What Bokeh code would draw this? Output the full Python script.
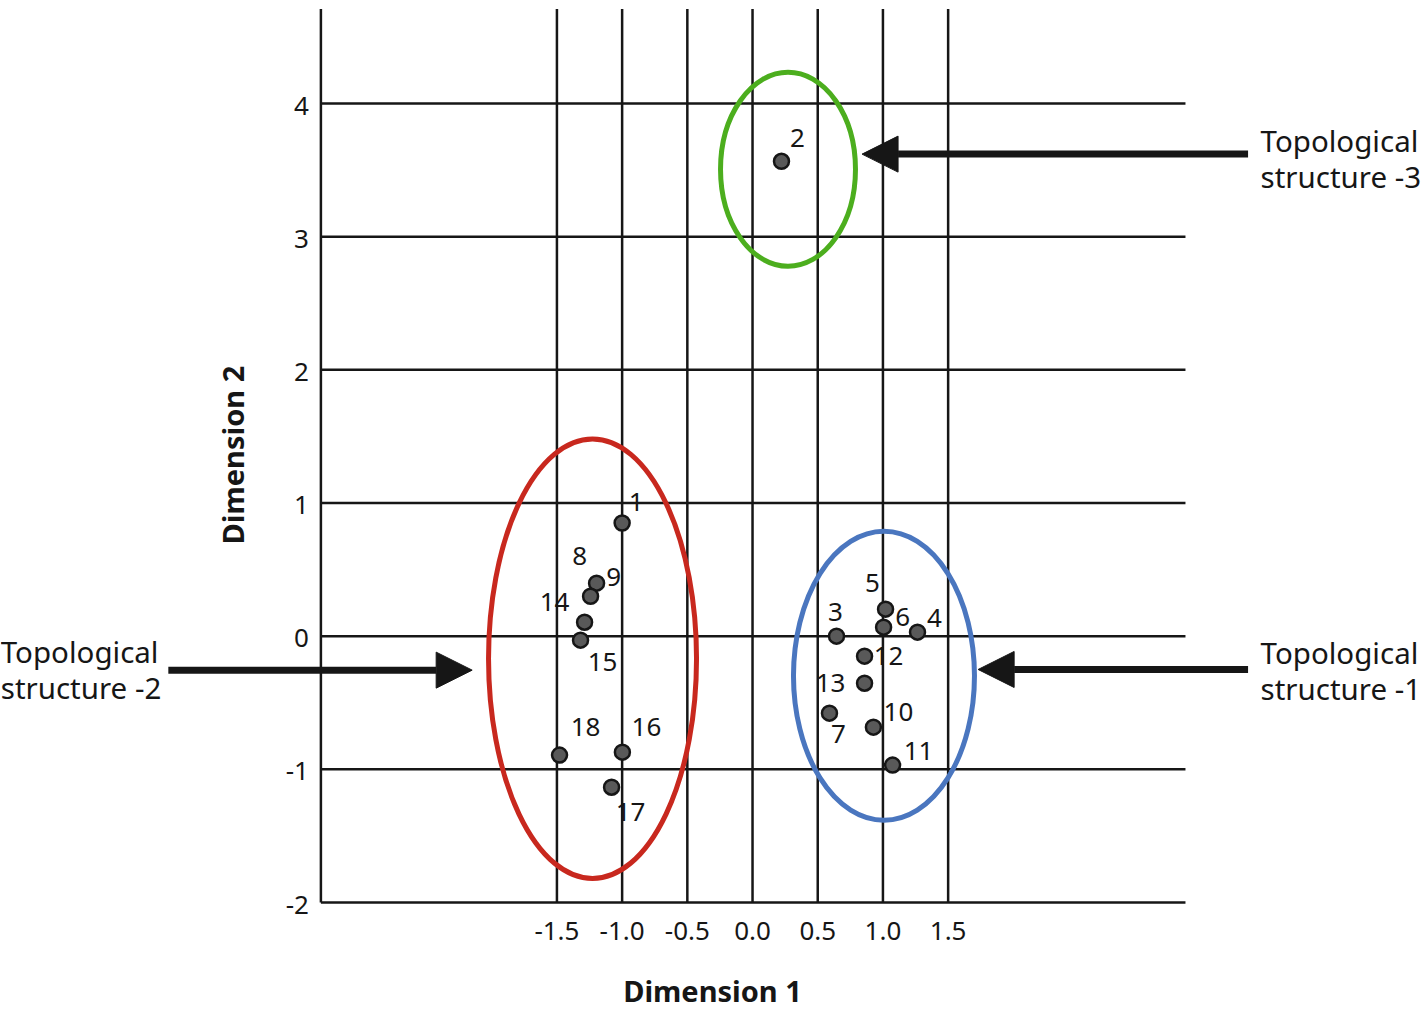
import math
from bokeh.plotting import figure
from bokeh.models import (Range1d, FixedTicker, PrintfTickFormatter, ColumnDataSource,
                          Arrow, NormalHead)
from bokeh.core.properties import value
from bokeh.embed import file_html
from bokeh.resources import INLINE

# ---------------- data ----------------
point_ids = ["1", "2", "3", "4", "5", "6", "7", "8", "9",
             "10", "11", "12", "13", "14", "15", "16", "17", "18"]
dim1 = [-1.00, 0.222, 0.644, 1.265, 1.020, 1.005, 0.590, -1.196, -1.242,
        0.927, 1.074, 0.859, 0.859, -1.288, -1.319, -0.998, -1.081, -1.480]
dim2 = [0.850, 3.566, 0.000, 0.030, 0.203, 0.068, -0.578, 0.398, 0.300,
        -0.683, -0.968, -0.150, -0.353, 0.105, -0.030, -0.871, -1.134, -0.893]

x_ticks = [-1.5, -1.0, -0.5, 0.0, 0.5, 1.0, 1.5]
y_ticks = [-2, -1, 0, 1, 2, 3, 4]

cluster_names = ["Topological\nstructure -1", "Topological\nstructure -2", "Topological\nstructure -3"]
cluster_cx = [1.008, -1.227, 0.272]
cluster_cy = [-0.297, -0.169, 3.506]
cluster_w = [1.388, 1.595, 1.035]
cluster_h = [2.170, 3.300, 1.456]

arrow_x_start = [3.80, -4.48, 3.80]
arrow_x_end = [1.73, -2.15, 0.84]
arrow_y = [-0.25, -0.255, 3.62]
caption_x = [3.896, -5.765, 3.896]
caption_y = [-0.255, -0.25, 3.589]

# ---------------- styling ----------------
FONT = "Noto Sans"
INK = "#161616"
cluster_colors = ["#4a76bf", "#c8281e", "#4cae1e"]
# label offsets in screen pixels (right, down) for the point numbers
label_dx = [14, 16, -1, 17, -13, 19, 9, -17, 23, 25, 26, 24, -34, -30, 22, 24, 19, 26]
label_dy = [-21, -23, -24, -14, -26, -10, 21, -27, -19, -15, -14, 0, 0, -20, 22, -25, 25, -28]

X_LO, X_HI = -3.31, 3.32
Y_LO, Y_TOP = -2.0, 4.71

p = figure(width=1424, height=1012,
           x_range=Range1d(-5.767, 5.153), y_range=Range1d(-2.120, 4.7735),
           output_backend="svg", toolbar_location=None, y_axis_location=None,
           min_border_left=0, min_border_right=0, min_border_top=0, min_border_bottom=94)
p.outline_line_color = None
p.xgrid.visible = False
p.ygrid.visible = False
p.background_fill_color = "white"

# grid lines & left spine
p.segment(x0=[X_LO] * len(y_ticks), x1=[X_HI] * len(y_ticks), y0=y_ticks, y1=y_ticks,
          line_color=INK, line_width=2.5)
p.segment(x0=x_ticks, x1=x_ticks, y0=[Y_LO] * len(x_ticks), y1=[Y_TOP] * len(x_ticks),
          line_color=INK, line_width=2.5)
p.segment(x0=[X_LO], x1=[X_LO], y0=[Y_LO], y1=[Y_TOP], line_color=INK, line_width=2.5)

# y tick labels and y title
p.text(x=[X_LO] * len(y_ticks), y=y_ticks, text=[str(t) for t in y_ticks],
       x_offset=-12, y_offset=2, text_align="right", text_baseline="middle",
       text_font=value(FONT), text_font_size="26px", text_color=INK)
p.text(x=[X_LO], y=[1.36], text=["Dimension 2"], angle=math.pi / 2, x_offset=-88,
       text_align="center", text_baseline="middle", text_font=value(FONT),
       text_font_size="29px", text_font_style="bold", text_color=INK)

# x axis
ax = p.xaxis[0]
ax.ticker = FixedTicker(ticks=x_ticks)
ax.formatter = PrintfTickFormatter(format="%.1f")
ax.axis_line_color = None
ax.major_tick_line_color = None
ax.minor_tick_line_color = None
ax.major_tick_out = 0
ax.major_tick_in = 0
ax.major_label_standoff = 3
ax.major_label_text_font = FONT
ax.major_label_text_font_size = "26px"
ax.major_label_text_color = INK
ax.axis_label = "Dimension 1"
ax.axis_label_text_font = FONT
ax.axis_label_text_font_size = "29px"
ax.axis_label_text_font_style = "bold"
ax.axis_label_text_color = INK
ax.axis_label_standoff = 28

# cluster ellipses
p.ellipse(x=cluster_cx, y=cluster_cy, width=cluster_w, height=cluster_h,
          fill_color=None, line_color=cluster_colors, line_width=5)

# points
p.scatter(x=dim1, y=dim2, size=15, fill_color="#595959", line_color=INK, line_width=2.5)
p.text(x=dim1, y=dim2, text=point_ids, x_offset=label_dx, y_offset=label_dy,
       text_align="center", text_baseline="middle", text_font=value(FONT),
       text_font_size="26px", text_color=INK)

# arrows
asrc = ColumnDataSource(dict(x0=arrow_x_start, x1=arrow_x_end, y=arrow_y))
p.add_layout(Arrow(end=NormalHead(size=36, fill_color=INK, line_color=INK),
                   x_start="x0", y_start="y", x_end="x1", y_end="y",
                   source=asrc, line_color=INK, line_width=7))

# captions
p.text(x=caption_x, y=caption_y, text=cluster_names, text_align="left",
       text_baseline="middle", text_font=value(FONT), text_font_size="29.5px",
       text_line_height=0.88, text_color=INK)

open("out.html", "w").write(file_html(p, INLINE))
